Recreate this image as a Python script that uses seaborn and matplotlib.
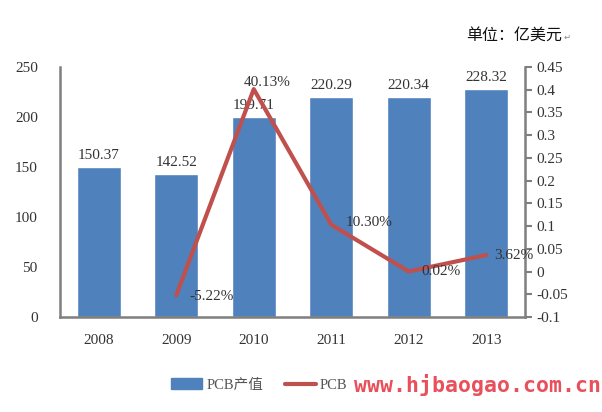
import matplotlib
matplotlib.use("Agg")
import matplotlib.pyplot as plt
import seaborn as sns
import pandas as pd
from matplotlib.ticker import FuncFormatter
from matplotlib.patches import Patch
from matplotlib.lines import Line2D

years = ["2008", "2009", "2010", "2011", "2012", "2013"]
output = [150.37, 142.52, 199.71, 220.29, 220.34, 228.32]
growth_years = ["2009", "2010", "2011", "2012", "2013"]
growth = [-0.0522, 0.4013, 0.1030, 0.0002, 0.0362]
growth_labels = ["-5.22%", "40.13%", "10.30%", "0.02%", "3.62%"]
left_ticks = [0, 50, 100, 150, 200, 250]
right_ticks = [-0.1, -0.05, 0, 0.05, 0.1, 0.15, 0.2, 0.25, 0.3, 0.35, 0.4, 0.45]

sns.set_theme(style="white")
plt.rcParams['font.family'] = ['Liberation Serif', 'Noto Sans CJK SC', 'DejaVu Sans']

BAR = "#4F81BD"
LINE = "#C0504D"
GRAY = "#7F7F7F"
TXT = "#333333"
FS = 11

fig = plt.figure(figsize=(6.02, 4.12), dpi=100)
ax = fig.add_axes([60/602, 1-317/412, (525-60)/602, (317-67)/412])

df = pd.DataFrame({"year": years, "value": output})
sns.barplot(data=df, x="year", y="value", color=BAR, width=0.57, ax=ax, saturation=1)
ax.set_ylim(0, 250)
ax.set_yticks(left_ticks)
ax.set_xlim(-0.5, len(years)-0.5)
ax.set_xlabel("")
ax.set_ylabel("")
for sp in ["top", "right"]:
    ax.spines[sp].set_visible(False)
for sp in ["left", "bottom"]:
    ax.spines[sp].set_color(GRAY)
    ax.spines[sp].set_linewidth(1.8)
ax.tick_params(axis="y", length=0, labelsize=FS, labelcolor=TXT, pad=16)
ax.tick_params(axis="x", length=0, labelsize=FS, labelcolor=TXT, pad=12)
for i, v in enumerate(output):
    ax.text(i, v + 5, f"{v:.2f}", ha="center", va="bottom", fontsize=FS, color=TXT)

ax2 = ax.twinx()
pos = [years.index(y) for y in growth_years]
sns.lineplot(x=pos, y=growth, color=LINE, linewidth=3, ax=ax2)
ax2.set_ylim(-0.1, 0.45)
ax2.set_yticks(right_ticks)
ax2.yaxis.set_major_formatter(FuncFormatter(lambda v, p: f"{v:g}"))
for sp in ["top", "left", "bottom"]:
    ax2.spines[sp].set_visible(False)
ax2.spines["right"].set_color(GRAY)
ax2.spines["right"].set_linewidth(1.8)
ax2.tick_params(axis="y", direction="out", length=5, width=1.5, color=GRAY,
                labelsize=FS, labelcolor=TXT, pad=3)
ax2.set_xlim(-0.5, len(years)-0.5)

offsets = [(0.45, -0.003, "center"), (0.17, 0.014, "center"), (0.49, 0.004, "center"),
           (0.41, -0.001, "center"), (0.10, 0.0, "left")]
for p, g, lab, (dx, dy, ha) in zip(pos, growth, growth_labels, offsets):
    ax2.text(p + dx, g + dy, lab, ha=ha, va="center", fontsize=FS, color=TXT)

fig.text(562/602, 1-35/412, "单位：亿美元", ha="right", va="center",
         fontsize=11.5, color="#111111", family=['Noto Sans CJK SC', 'DejaVu Sans'])
fig.text(564/602, 1-37/412, "↵", ha="left", va="center", fontsize=6,
         color="#888888", family=['DejaVu Sans'])

handles = [Patch(facecolor=BAR, edgecolor=BAR), Line2D([0], [0], color=LINE, linewidth=3)]
fig.legend(handles, ["PCB产值", "PCB"], loc="center left",
           bbox_to_anchor=(158/602, 1-385/412), ncol=2, frameon=False,
           fontsize=10.5, handlelength=2.1, handletextpad=0.3, columnspacing=1.5,
           labelcolor="#555555")
fig.text(601/602, 1-385/412, "www.hjbaogao.com.cn", ha="right", va="center",
         fontsize=15.5, fontweight="bold", color="#E8505B", family='DejaVu Sans Mono')

fig.savefig("out.png", dpi=100)
